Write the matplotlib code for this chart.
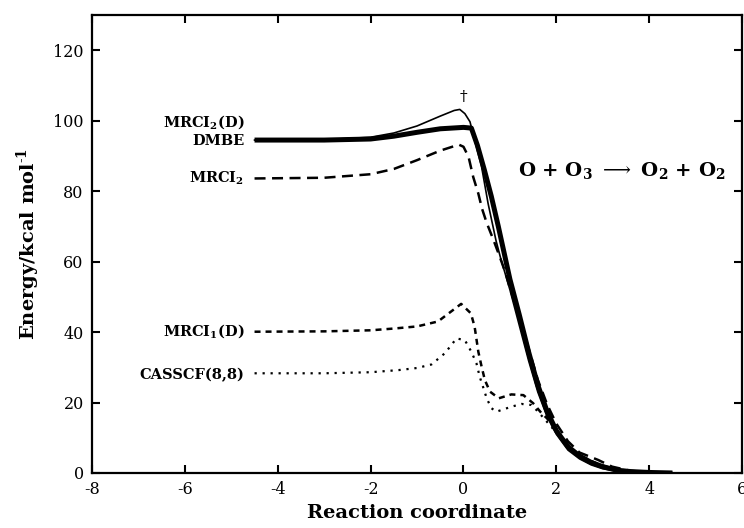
import numpy as np
import matplotlib
matplotlib.use("Agg")
import matplotlib.pyplot as plt

plt.rcParams['font.family'] = 'DejaVu Serif'
plt.rcParams['mathtext.fontset'] = 'dejavuserif'
plt.rcParams['axes.unicode_minus'] = False

# curvas (coordenada de reaccion, energia kcal/mol)
x_dmbe = [-4.5, -4.0, -3.0, -2.0, -1.5, -1.0, -0.5, 0.0, 0.17, 0.3, 0.45, 0.6, 0.75,
          0.9, 1.0, 1.2, 1.4, 1.6, 1.8, 2.0, 2.25, 2.5, 2.75, 3.0, 3.3, 3.6, 4.0, 4.5]
y_dmbe = [94.5, 94.5, 94.5, 94.8, 95.6, 96.7, 97.7, 98.1, 97.9, 93.0, 86.0, 78.5, 70.0,
          61.0, 55.0, 45.0, 34.5, 25.0, 17.5, 12.0, 7.5, 4.8, 3.0, 1.8, 0.8, 0.4, 0.15, 0.0]

x_mrci2d = [-4.5, -3.0, -2.0, -1.5, -1.0, -0.5, -0.2, -0.08, 0.03, 0.14, 0.24, 0.39, 0.53,
            0.7, 0.8, 1.0, 1.2, 1.4, 1.6, 1.8, 2.0, 2.25, 2.5, 2.75, 3.0, 3.3, 3.6, 4.0]
y_mrci2d = [94.5, 94.6, 95.3, 96.5, 98.5, 101.3, 102.9, 103.2, 102.0, 99.7, 94.5, 86.9, 76.5,
            66.0, 61.0, 52.0, 42.0, 32.0, 23.0, 16.0, 11.0, 6.5, 4.0, 2.3, 1.2, 0.5, 0.2, 0.05]

x_mrci2 = [-4.5, -3.0, -2.0, -1.5, -1.0, -0.5, -0.1, 0.0, 0.11, 0.21, 0.32, 0.4, 0.5,
           0.65, 0.78, 0.9, 1.0, 1.2, 1.4, 1.6, 1.8, 2.0, 2.25, 2.5, 2.9, 3.2, 3.6, 4.0, 4.5]
y_mrci2 = [83.6, 83.8, 84.8, 86.3, 88.8, 91.5, 93.2, 92.6, 89.7, 84.0, 79.3, 75.0, 71.0,
           66.0, 61.4, 57.0, 52.5, 44.0, 35.5, 26.5, 19.5, 14.0, 9.0, 5.8, 3.7, 1.8, 0.6, 0.2, 0.0]

x_mrci1d = [-4.5, -3.0, -2.0, -1.5, -1.0, -0.55, -0.3, -0.05, 0.16, 0.24, 0.32, 0.39, 0.46,
            0.57, 0.76, 1.03, 1.29, 1.5, 1.68, 1.8, 2.0, 2.25, 2.5, 2.9, 3.2, 3.6, 4.0, 4.5]
y_mrci1d = [40.1, 40.2, 40.5, 41.0, 41.6, 43.0, 45.5, 48.0, 45.3, 41.5, 34.4, 30.2, 26.4,
            23.1, 21.2, 22.3, 22.1, 19.8, 17.0, 15.5, 12.0, 8.0, 5.0, 2.5, 1.3, 0.5, 0.2, 0.0]

x_cas = [-4.5, -3.0, -2.0, -1.4, -1.0, -0.69, -0.4, -0.15, 0.03, 0.17, 0.28, 0.35, 0.42,
         0.5, 0.6, 0.71, 1.03, 1.25, 1.46, 1.57, 1.7, 1.9, 2.1, 2.4, 2.7, 3.0, 3.4, 3.8, 4.5]
y_cas = [28.3, 28.3, 28.6, 29.2, 29.8, 30.8, 34.0, 38.2, 37.7, 34.4, 31.1, 27.3, 24.5,
         21.2, 18.4, 17.4, 18.8, 19.6, 19.3, 17.9, 16.0, 13.0, 9.8, 6.0, 3.5, 2.0, 0.8, 0.3, 0.0]

xticks = [-8, -6, -4, -2, 0, 2, 4, 6]
yticks = [0, 20, 40, 60, 80, 100, 120]

fig = plt.figure(figsize=(7.44, 5.28), dpi=100)
ax = fig.add_axes([0.1237, 0.1042, 0.8737, 0.8674])

ax.plot(x_dmbe, y_dmbe, color='black', lw=3.6, solid_capstyle='butt')
ax.plot(x_mrci2d, y_mrci2d, color='black', lw=1.2)
ax.plot(x_mrci2, y_mrci2, color='black', lw=1.8, linestyle=(0, (4.4, 2.6)))
ax.plot(x_mrci1d, y_mrci1d, color='black', lw=1.8, linestyle=(0, (2.4, 2.0)))
ax.plot(x_cas, y_cas, color='black', lw=1.6, linestyle=(0, (1.0, 2.6)))

etiq = dict(ha='right', va='center', fontsize=10.5, fontweight='bold')
ax.text(-4.72, 99.6, r'MRCI$_{\mathbf{2}}$(D)', **etiq)
ax.text(-4.72, 94.2, 'DMBE', **etiq)
ax.text(-4.72, 83.6, r'MRCI$_{\mathbf{2}}$', **etiq)
ax.text(-4.72, 40.3, r'MRCI$_{\mathbf{1}}$(D)', **etiq)
ax.text(-4.72, 27.8, 'CASSCF(8,8)', **etiq)
ax.text(0.0, 106.8, '\u2020', ha='center', va='center', fontsize=11)
ax.text(3.4, 85.8, r'O + O$_{\mathbf{3}}$ $\longrightarrow$ O$_{\mathbf{2}}$ + O$_{\mathbf{2}}$',
        ha='center', va='center', fontsize=14, fontweight='bold')

ax.set_xlim(-8, 6)
ax.set_ylim(0, 130)
ax.set_xticks(xticks)
ax.set_yticks(yticks)
ax.tick_params(direction='in', length=6, width=1.5, labelsize=11.5,
               top=True, right=True, pad=6)
for s in ax.spines.values():
    s.set_linewidth(1.6)

ax.set_xlabel('Reaction coordinate', fontsize=14, fontweight='bold', labelpad=4)
ax.set_ylabel(r'Energy/kcal mol$^{\mathbf{\text{-}1}}$', fontsize=14, fontweight='bold', labelpad=8)

fig.savefig('out.png', dpi=100)
